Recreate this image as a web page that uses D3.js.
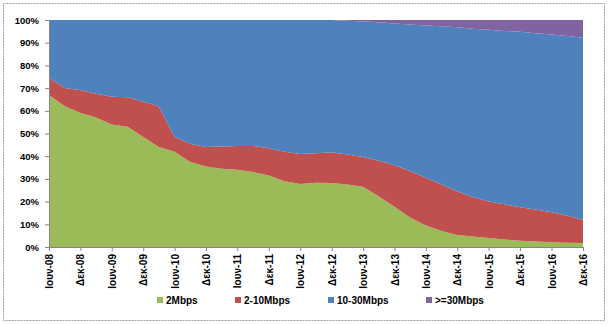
<!DOCTYPE html>
<html>
<head>
<meta charset="utf-8">
<script src="https://cdn.jsdelivr.net/npm/d3@7"></script>
<style>
  html, body { margin: 0; padding: 0; background: #fff; }
  svg { display: block; }
  text { font-family: "Liberation Sans", Arial, sans-serif; font-weight: bold; fill: #000; }
</style>
</head>
<body>
<svg id="chart" width="609" height="325"></svg>
<script>
// Quarterly observations, June 2008 – December 2016 (year, month index)
const quarters = [
  [2008,5],[2008,8],[2008,11],[2009,2],[2009,5],[2009,8],[2009,11],
  [2010,2],[2010,5],[2010,8],[2010,11],[2011,2],[2011,5],[2011,8],[2011,11],
  [2012,2],[2012,5],[2012,8],[2012,11],[2013,2],[2013,5],[2013,8],[2013,11],
  [2014,2],[2014,5],[2014,8],[2014,11],[2015,2],[2015,5],[2015,8],[2015,11],
  [2016,2],[2016,5],[2016,8],[2016,11]
];

// Share of lines per speed class (%)
const speed2 = [67,62,59,57,54,53,48.5,44,42,37.5,35.5,34.5,34,33,31.5,29,27.7,28.3,28.2,27.5,26.5,22.3,17.7,13,9.5,7,5.3,4.6,4,3.3,2.8,2.4,2.1,1.9,1.8];
const speed2to10 = [7.5,8,10,10.5,12.2,13,15.5,18,6.5,8,8.5,9.8,10.5,11.5,12,13,13.3,13,13.5,13.3,13.1,15.7,18.3,20.5,21,20.5,19.2,17.4,16,15.5,14.7,14.1,13.2,11.9,10.2];
const speed10to30 = [25.5,30,31,32.5,33.8,34,36,38,51.5,54.5,56,55.7,55.5,55.5,56.5,58,59,58.7,58.3,58.9,59.7,61,62.5,64.5,67.1,69.7,72.3,74.2,75.7,76.4,77.3,77.7,78.3,79.2,80.2];
const speed30plus = [0,0,0,0,0,0,0,0,0,0,0,0,0,0,0,0,0,0,0,0.3,0.7,1,1.5,2,2.4,2.8,3.2,3.8,4.3,4.8,5.2,5.8,6.4,7,7.8];

const seriesNames = ["2Mbps", "2-10Mbps", "10-30Mbps", ">=30Mbps"];
const seriesColors = ["#9BBB59", "#C0504D", "#4F81BD", "#8064A2"];

// Axis labels
const yTickLabels = ["0%","10%","20%","30%","40%","50%","60%","70%","80%","90%","100%"];
const xTickLabels = ["Ιουν-08","Δεκ-08","Ιουν-09","Δεκ-09","Ιουν-10","Δεκ-10","Ιουν-11","Δεκ-11",
  "Ιουν-12","Δεκ-12","Ιουν-13","Δεκ-13","Ιουν-14","Δεκ-14","Ιουν-15","Δεκ-15","Ιουν-16","Δεκ-16"];

const rows = quarters.map((q, i) => ({
  date: new Date(q[0], q[1], 1),
  "2Mbps": speed2[i],
  "2-10Mbps": speed2to10[i],
  "10-30Mbps": speed10to30[i],
  ">=30Mbps": speed30plus[i]
}));

const svg = d3.select("#chart");
const margin = { left: 49, right: 26, top: 20, bottom: 78 };
const W = 609, H = 325;

// Outer chart frame
svg.append("rect")
  .attr("x", 3.5).attr("y", 3.5).attr("width", 601).attr("height", 317)
  .attr("fill", "#fff").attr("stroke", "#9a9a9a").attr("stroke-width", 1)
  .attr("stroke-dasharray", "2,1");

const x = d3.scaleTime()
  .domain([rows[0].date, rows[rows.length - 1].date])
  .range([margin.left, W - margin.right]);
const y = d3.scaleLinear().domain([0, 100]).range([H - margin.bottom, margin.top]);

const stacked = d3.stack().keys(seriesNames)(rows);

const area = d3.area()
  .x(d => x(d.data.date))
  .y0(d => y(d[0]))
  .y1(d => y(d[1]));

svg.append("g").selectAll("path")
  .data(stacked)
  .join("path")
  .attr("d", area)
  .attr("fill", (d, i) => seriesColors[i]);

// Y axis
const yAxis = d3.axisLeft(y)
  .tickValues(d3.range(0, 101, 10))
  .tickFormat((d, i) => yTickLabels[i])
  .tickSize(4).tickPadding(6);
const gy = svg.append("g").attr("transform", `translate(${margin.left},0)`).call(yAxis);
gy.select(".domain").attr("stroke", "#868686");
gy.selectAll(".tick line").attr("stroke", "#868686");
gy.selectAll("text").style("font-size", "9.5px");

// X axis: half-yearly ticks (June and December)
const tickDates = xTickLabels.map((_, i) => new Date(2008 + Math.floor(i / 2), i % 2 === 0 ? 5 : 11, 1));
const xAxis = d3.axisBottom(x)
  .tickValues(tickDates)
  .tickFormat((d, i) => xTickLabels[i])
  .tickSize(4).tickPadding(6);
const gx = svg.append("g").attr("transform", `translate(0,${H - margin.bottom})`).call(xAxis);
gx.select(".domain").attr("stroke", "#868686");
gx.selectAll(".tick line").attr("stroke", "#868686");
gx.selectAll("text")
  .style("font-size", "10px")
  .attr("text-anchor", "end")
  .attr("transform", "rotate(-90)")
  .attr("x", -7).attr("y", 0).attr("dy", "0.35em");

// Legend
const legendX = [157, 235, 328, 426];
const legend = svg.append("g");
seriesNames.forEach((name, i) => {
  legend.append("rect")
    .attr("x", legendX[i]).attr("y", 297).attr("width", 6).attr("height", 6)
    .attr("fill", seriesColors[i]);
  legend.append("text")
    .attr("x", legendX[i] + 9).attr("y", 300).attr("dy", "0.35em")
    .style("font-size", "10px")
    .text(name);
});
</script>
</body>
</html>
